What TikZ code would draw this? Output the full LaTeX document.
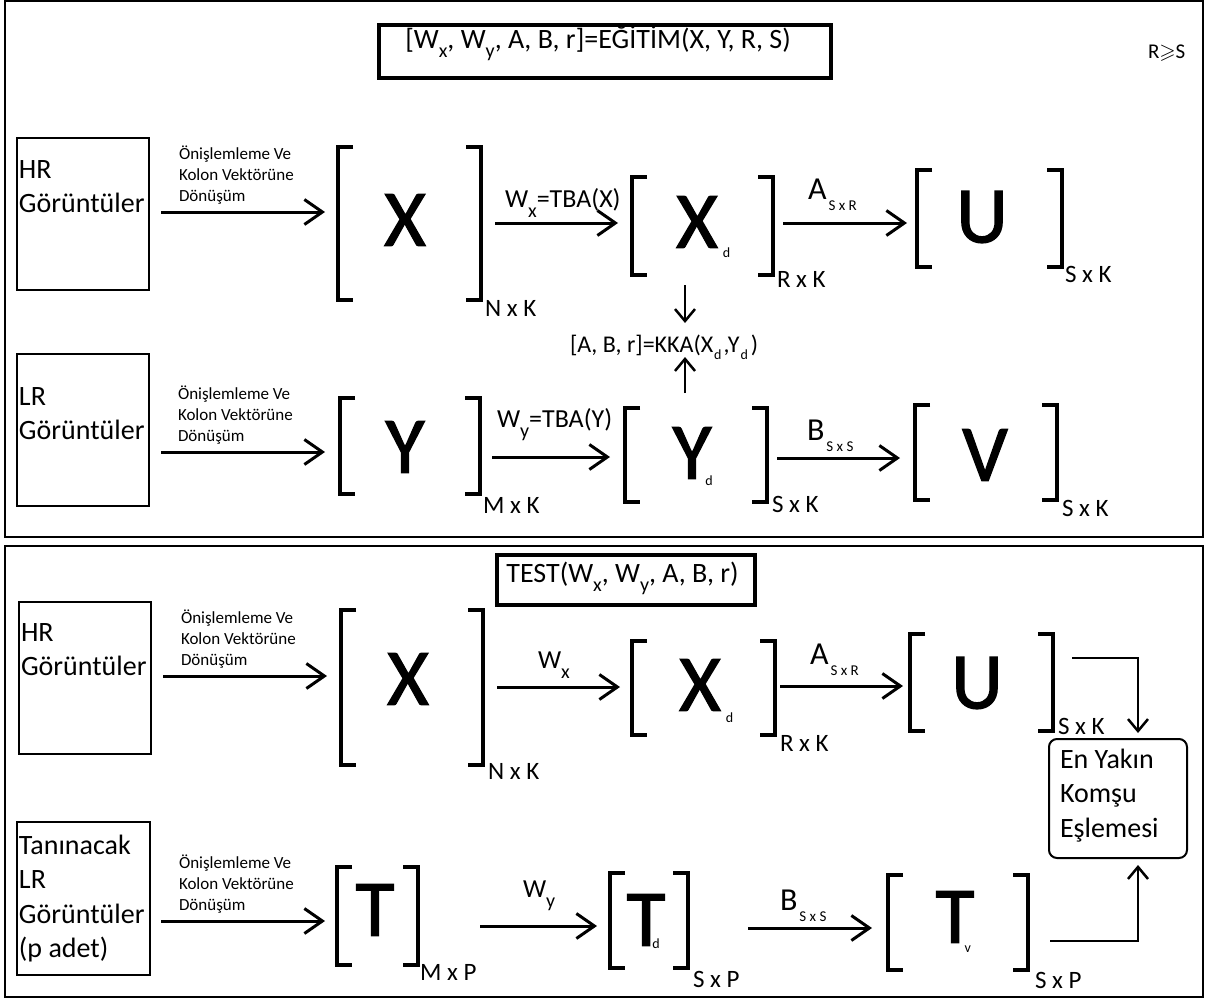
\documentclass[tikz,border=0pt]{standalone}
\usepackage{fontspec}
\setmainfont{Carlito}
\newfontfamily\heavyfont[FakeBold=1.6]{Carlito}
\usepackage{amssymb}
\usetikzlibrary{arrows.meta}

% font sizes (1pt = one unit of the drawing grid)
\newcommand\fmain{\fontsize{28}{34.5}\selectfont}
\newcommand\fsmall{\fontsize{17}{21}\selectfont}
\newcommand\fdim{\fontsize{25}{30}\selectfont}
\newcommand\fbig{\heavyfont\fontsize{80}{90}\selectfont}
\newcommand\fop{\fontsize{32}{36}\selectfont}
\newcommand\fsxs{\fontsize{15}{18}\selectfont}
\newcommand\fsd{\fontsize{14}{14}\selectfont}
\newcommand\fsw{\fontsize{20}{20}\selectfont}
% lowered index and small trailing index of a matrix letter
\newcommand\lowsub[2]{\raisebox{-#1}{#2}}
\newcommand\subd[3]{\rlap{\kern#1\smash{\raisebox{-#2}{\normalfont\fsd #3}}}}
\newcommand\prep{\parbox[t]{150pt}{\fsmall Önişlemleme Ve\\Kolon Vektörüne\\Dönüşüm}}

% matrix frame: name, left, right, top, bottom
\newcommand\frm[5]{%
  \node[mframe, minimum width={(#3-#2)*1pt}, minimum height={(#5-#4)*1pt}]
    (#1) at ({(#2+#3)/2},{(#4+#5)/2}) {};
  \draw[brk] ([xshift=15pt]#1.north west) -| (#1.south west) -- ++(15pt,0);
  \draw[brk] ([xshift=-15pt]#1.north east) -| (#1.south east) -- ++(-15pt,0);}

\begin{document}
\begin{tikzpicture}[x=1pt,y=-1pt,
  every node/.style={outer sep=0pt},
  panel/.style={draw, line width=1.5pt},
  titlebox/.style={draw, line width=4pt, inner sep=0pt, font=\fmain},
  srcbox/.style={draw, line width=1.5pt, anchor=north west, inner sep=2pt},
  mframe/.style={inner sep=0pt},
  brk/.style={line width=4pt},
  arr/.style={line width=3pt, -{Straight Barb[length=18pt,width=25pt]}},
  sarr/.style={line width=2.5pt, -{Straight Barb[length=12pt,width=20pt]}},
  elb/.style={line width=2pt, -{Straight Barb[length=12pt,width=20pt,line width=2.5pt]}},
  lbl/.style={anchor=base west, inner sep=0pt},
  dim/.style={anchor=base west, inner sep=0pt, font=\fdim},
  bigl/.style={inner sep=0pt, font=\fbig},
]
\useasboundingbox (0,0) rectangle (1205,999);
\fill[white] (0,0) rectangle (1205,999);

% ---------------- training panel ----------------
\draw[panel] (5,1) rectangle (1203,537);
\node[titlebox, minimum width=452pt, minimum height=53pt, text height=10pt, text depth=17pt]
  (t1) at (605,51.5) {\kern-14pt[W\lowsub{9pt}{\fsw x}, W\lowsub{9pt}{\fsw y}, A, B, r]=EĞİTİM(X, Y, R, S)};
\node[lbl, font=\fontsize{21}{21}\selectfont] (rs) at (1148,58) {R$\geqslant$S};

% HR row
\node[srcbox] (hr1) at (17,138) {\parbox[c][148pt][t]{128pt}{\fmain\rule{0pt}{38pt}HR\\Görüntüler}};
\node[lbl] (p1) at (179,159) {\prep};
\frm{X1}{338}{481}{147}{300}
\node[bigl] (X1l) at (405,220) {X};
\node[dim] (X1s) at (485,316) {N x K};
\frm{Xd1}{632}{773}{177}{275}
\node[bigl] (Xd1l) at (697,222) {X\subd{5pt}{10pt}{d}};
\node[dim] (Xd1s) at (777,287) {R x K};
\frm{U1}{917}{1062}{170}{267}
\node[bigl] (U1l) at (982,217) {U};
\node[dim] (U1s) at (1065,282) {S x K};

\path (0,212) coordinate (r1a) (0,223) coordinate (r1b);
\draw[arr, shorten <=12pt, shorten >=13pt] (hr1.east |- r1a) -- (X1.west |- r1a);
\draw[arr, shorten <=14pt, shorten >=14pt] (X1.east |- r1b) -- (Xd1.west |- r1b);
\node[lbl, font=\fontsize{26}{30}\selectfont] (w1) at (505,207) {W\lowsub{10pt}{\fsw x}=TBA(X)};
\draw[arr, shorten <=10pt, shorten >=10pt] (Xd1.east |- r1b) -- (U1.west |- r1b);
\node[lbl, font=\fop] (a1) at (808,199) {A\kern2pt\lowsub{11pt}{\fsxs S x R}};

% CCA step between the rows
\node[lbl, font=\fontsize{24}{28}\selectfont] (kka) at (570,352)
  {[A, B, r]=KKA(X\kern1pt\lowsub{7pt}{\fsd d}\kern2pt,Y\kern1pt\lowsub{7pt}{\fsd d}\kern3pt)};
\path (685,323) coordinate (kd) (685,357) coordinate (ku);
\draw[sarr, shorten <=10pt] (Xd1.south -| kd) -- (kd);

% LR row
\node[srcbox] (lr1) at (17,354) {\parbox[c][148pt][t]{128pt}{\fmain\rule{0pt}{49pt}LR\\Görüntüler}};
\node[lbl] (p2) at (178,399) {\prep};
\frm{Y1}{340}{480}{398}{494}
\node[bigl] (Y1l) at (405,447) {Y};
\node[dim] (Y1s) at (483,513) {M x K};
\frm{Yd1}{625}{767}{408}{502}
\node[bigl] (Yd1l) at (692,453) {Y\subd{-6pt}{7pt}{d}};
\node[dim] (Yd1s) at (772,512) {S x K};
\frm{V1}{915}{1057}{405}{500}
\node[bigl] (V1l) at (985,455) {V};
\node[dim] (V1s) at (1062,516) {S x K};

\path (0,452) coordinate (r2a) (0,457) coordinate (r2b) (0,458) coordinate (r2c);
\draw[arr, shorten <=12pt, shorten >=15pt] (lr1.east |- r2a) -- (Y1.west |- r2a);
\draw[arr, shorten <=12pt, shorten >=15pt] (Y1.east |- r2b) -- (Yd1.west |- r2b);
\node[lbl, font=\fontsize{26}{30}\selectfont] (w2) at (497,427) {W\lowsub{10pt}{\fsw y}=TBA(Y)};
\draw[arr, shorten <=10pt, shorten >=15pt] (Yd1.east |- r2c) -- (V1.west |- r2c);
\node[lbl, font=\fop] (b1) at (807,440) {B\kern2pt\lowsub{11pt}{\fsxs S x S}};
\draw[sarr, shorten <=15pt] (Yd1.north -| ku) -- (ku);

% ---------------- test panel ----------------
\draw[panel] (5,546) rectangle (1203,997);
\node[titlebox, minimum width=258pt, minimum height=50pt, text height=14pt, text depth=10pt]
  (t2) at (626,580) {\kern-7pt TEST(W\lowsub{9pt}{\fsw x}, W\lowsub{9pt}{\fsw y}, A, B, r)};

% HR row
\node[srcbox] (hr2) at (19,602) {\parbox[c][148pt][t]{128pt}{\fmain\rule{0pt}{37pt}HR\\Görüntüler}};
\node[lbl] (p3) at (181,623) {\prep};
\frm{X2}{341}{483}{610}{765}
\node[bigl] (X2l) at (408,679) {X};
\node[dim] (X2s) at (488,779) {N x K};
\frm{Xd2}{632}{775}{641}{735}
\node[bigl] (Xd2l) at (700,685) {X\subd{5pt}{12pt}{d}};
\node[dim] (Xd2s) at (780,751) {R x K};
\frm{U2}{910}{1053}{634}{731}
\node[bigl] (U2l) at (977,683) {U};
\node[dim] (U2s) at (1058,734) {S x K};

\path (0,676) coordinate (r3a) (0,687) coordinate (r3b) (0,686) coordinate (r3c);
\draw[arr, shorten <=12pt, shorten >=14pt] (hr2.east |- r3a) -- (X2.west |- r3a);
\draw[arr, shorten <=14pt, shorten >=12pt] (X2.east |- r3b) -- (Xd2.west |- r3b);
\node[lbl, font=\fontsize{26}{30}\selectfont] (w3) at (538,668) {W\lowsub{10pt}{\fsw x}};
\draw[arr, shorten <=5pt, shorten >=7pt] (Xd2.east |- r3c) -- (U2.west |- r3c);
\node[lbl, font=\fop] (a2) at (810,664) {A\kern2pt\lowsub{11pt}{\fsxs S x R}};

% nearest neighbour matching
\node[draw, rounded corners=8pt, line width=2pt, anchor=north west, inner xsep=11pt, inner ysep=2pt]
  (nn) at (1049,739) {\parbox[c][115pt][t]{116pt}{\fmain\rule{0pt}{27pt}En Yakın\\Komşu\\Eşlemesi}};
\path (1138,658) coordinate (c1) (1138,941) coordinate (c2);
\draw[elb, shorten <=19pt, shorten >=6pt] (U2.east |- c1) -| (nn.north -| c1);

% LR test row
\node[srcbox] (tl) at (17,822) {\parbox[c][149pt][t]{129pt}{\fmain\rule{0pt}{30pt}Tanınacak\\LR\\Görüntüler\\(p adet)}};
\node[lbl] (p4) at (179,868) {\prep};
\frm{T1}{337}{418}{867}{965}
\node[bigl] (T1l) at (375,910) {T};
\node[dim] (T1s) at (420,980) {M x P};
\frm{Td}{610}{688}{873}{968}
\node[bigl] (Tdl) at (646,920) {T\subd{-13pt}{3pt}{d}};
\node[dim] (Tds) at (693,987) {S x P};
\frm{Tv}{888}{1028}{875}{970}
\node[bigl] (Tvl) at (955,917) {T\subd{-10pt}{10pt}{v}};
\node[dim] (Tvs) at (1035,988) {S x P};

\path (0,921) coordinate (r4a) (0,926) coordinate (r4b) (0,928) coordinate (r4c);
\draw[arr, shorten <=11pt, shorten >=12pt] (tl.east |- r4a) -- (T1.west |- r4a);
\draw[arr, shorten <=62pt, shorten >=13pt] (T1.east |- r4b) -- (Td.west |- r4b);
\node[lbl, font=\fontsize{26}{30}\selectfont] (w4) at (523,897) {W\lowsub{10pt}{\fsw y}};
\draw[arr, shorten <=60pt, shorten >=16pt] (Td.east |- r4c) -- (Tv.west |- r4c);
\node[lbl, font=\fop] (b2) at (780,910) {B\kern2pt\lowsub{11pt}{\fsxs S x S}};
\draw[elb, shorten <=22pt, shorten >=7pt] (Tv.east |- c2) -| (nn.south -| c2);
\end{tikzpicture}
\end{document}
